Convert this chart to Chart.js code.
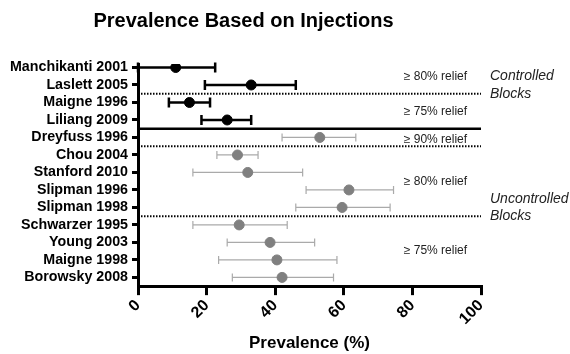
<!DOCTYPE html>
<html lang="en">
<head>
    <script src="https://cdn.jsdelivr.net/npm/chart.js@4.4.1/dist/chart.umd.min.js"></script>
    <meta charset="UTF-8">
    <title>Prevalence Based on Injections</title>
    <style>
        body {
            margin: 0;
            background: #fff;
        }
        #wrap {
            width: 570px;
            height: 354px;
        }
    </style>
</head>
<body>
    <div id="wrap"><canvas id="myChart"></canvas></div>

    <script>
        const studies = ["Manchikanti 2001", "Laslett 2005", "Maigne 1996", "Liliang 2009", "Dreyfuss 1996",
            "Chou 2004", "Stanford 2010", "Slipman 1996", "Slipman 1998", "Schwarzer 1995",
            "Young 2003", "Maigne 1998", "Borowsky 2008"];
        const prevalence = [11, 33, 15, 26, 53, 29, 32, 61.5, 59.5, 29.5, 38.5, 40.5, 42];
        const lower = [0, 19.5, 9, 18.5, 42, 23, 16, 49, 46, 16, 26, 23.5, 27.5];
        const upper = [22.5, 46, 21, 33, 63.5, 35, 48, 74.5, 73.5, 43.5, 51.5, 58, 57];
        const controlledCount = 4; // first 4 rows are controlled blocks
        const xTicks = [0, 20, 40, 60, 80, 100];

        // divider lines sit between row i and i+1
        const dividerAfter = [1, 3, 4, 8];
        const dividerSolid = [false, true, false, false];

        // relief notes: row position (can be fractional)
        const reliefText = ["≥ 80% relief", "≥ 75% relief", "≥ 90% relief", "≥ 80% relief", "≥ 75% relief"];
        const reliefRow = [0.5, 2.5, 4.1, 6.5, 10.5];
        const groupText = [["Controlled", "Blocks"], ["Uncontrolled", "Blocks"]];
        const groupRow = [0.5, 7.5];

        const ctlData = [], unctlData = [];
        for (let i = 0; i < studies.length; i++) {
            const p = { x: prevalence[i], y: i };
            if (i < controlledCount) ctlData.push(p); else unctlData.push(p);
        }

        const extras = {
            id: 'extras',
            beforeDatasetsDraw(chart) {
                const ctx = chart.ctx;
                const xs = chart.scales.x, ys = chart.scales.y;
                ctx.save();
                for (let i = 0; i < studies.length; i++) {
                    const y = ys.getPixelForValue(i);
                    const x1 = xs.getPixelForValue(lower[i]);
                    const x2 = xs.getPixelForValue(upper[i]);
                    const ctl = i < controlledCount;
                    ctx.strokeStyle = ctl ? '#000' : '#aaa';
                    ctx.lineWidth = ctl ? 2.5 : 1.2;
                    ctx.beginPath();
                    ctx.moveTo(x1, y); ctx.lineTo(x2, y);
                    const cap = ctl ? 5 : 4;
                    ctx.moveTo(x1, y - cap); ctx.lineTo(x1, y + cap);
                    ctx.moveTo(x2, y - cap); ctx.lineTo(x2, y + cap);
                    ctx.stroke();
                }
                // divider lines
                const left = chart.chartArea.left, right = chart.chartArea.right;
                dividerAfter.forEach((r, k) => {
                    const y = ys.getPixelForValue(r + 0.5);
                    ctx.strokeStyle = '#000';
                    if (dividerSolid[k]) {
                        ctx.setLineDash([]);
                        ctx.lineWidth = 2.5;
                    } else {
                        ctx.setLineDash([1.5, 1.5]);
                        ctx.lineWidth = 2;
                    }
                    ctx.beginPath();
                    ctx.moveTo(left, y); ctx.lineTo(right, y);
                    ctx.stroke();
                });
                ctx.setLineDash([]);
                // notes
                ctx.fillStyle = '#222';
                ctx.textBaseline = 'middle';
                ctx.textAlign = 'left';
                ctx.font = '12px "Liberation Sans", Arial, sans-serif';
                reliefText.forEach((t, k) => {
                    ctx.fillText(t, xs.getPixelForValue(77.5), ys.getPixelForValue(reliefRow[k]));
                });
                ctx.font = 'italic 14px "Liberation Sans", Arial, sans-serif';
                groupText.forEach((lines, k) => {
                    lines.forEach((t, j) => {
                        ctx.fillText(t, right + 9, ys.getPixelForValue(groupRow[k] + j));
                    });
                });
                ctx.restore();
            }
        };

        Chart.defaults.font.family = '"Liberation Sans", Arial, sans-serif';
        Chart.defaults.color = '#000';

        new Chart(document.getElementById('myChart'), {
            type: 'scatter',
            data: {
                datasets: [{
                    label: 'Controlled',
                    data: ctlData,
                    backgroundColor: '#000',
                    borderColor: '#000',
                    pointRadius: 5,
                    pointHoverRadius: 5
                }, {
                    label: 'Uncontrolled',
                    data: unctlData,
                    backgroundColor: '#808080',
                    borderColor: '#808080',
                    pointRadius: 5,
                    pointHoverRadius: 5
                }]
            },
            options: {
                responsive: true,
                maintainAspectRatio: false,
                animation: false,
                layout: { padding: { left: 6, right: 89, top: 0, bottom: 0 } },
                plugins: {
                    legend: { display: false },
                    tooltip: { enabled: false },
                    title: {
                        display: true,
                        text: 'Prevalence Based on Injections',
                        font: { size: 20, weight: 'bold' },
                        color: '#000',
                        padding: { top: 9, bottom: 31 }
                    }
                },
                scales: {
                    x: {
                        type: 'linear',
                        min: 0,
                        max: 100,
                        afterBuildTicks(axis) {
                            axis.ticks = xTicks.map(v => ({ value: v }));
                        },
                        grid: { drawOnChartArea: false, drawTicks: true, tickLength: 9, color: '#000', lineWidth: 3 },
                        border: { color: '#000', width: 3 },
                        ticks: {
                            minRotation: 45,
                            maxRotation: 45,
                            font: { size: 16, weight: 'bold' },
                            color: '#000',
                            padding: 1
                        },
                        title: {
                            display: true,
                            text: 'Prevalence (%)',
                            font: { size: 17, weight: 'bold' },
                            color: '#000',
                            padding: { top: 4, bottom: 0 }
                        }
                    },
                    y: {
                        type: 'linear',
                        reverse: true,
                        min: -0.2,
                        max: studies.length - 0.5,
                        afterBuildTicks(axis) {
                            axis.ticks = studies.map((s, i) => ({ value: i }));
                        },
                        grid: { drawOnChartArea: false, drawTicks: true, tickLength: 6, color: '#000', lineWidth: 3 },
                        border: { color: '#000', width: 3 },
                        ticks: {
                            font: { size: 14.25, weight: 'bold' },
                            color: '#000',
                            padding: 4,
                            autoSkip: false,
                            callback: (v) => studies[v]
                        }
                    }
                }
            },
            plugins: [extras]
        });
    </script>
</body>
</html>
